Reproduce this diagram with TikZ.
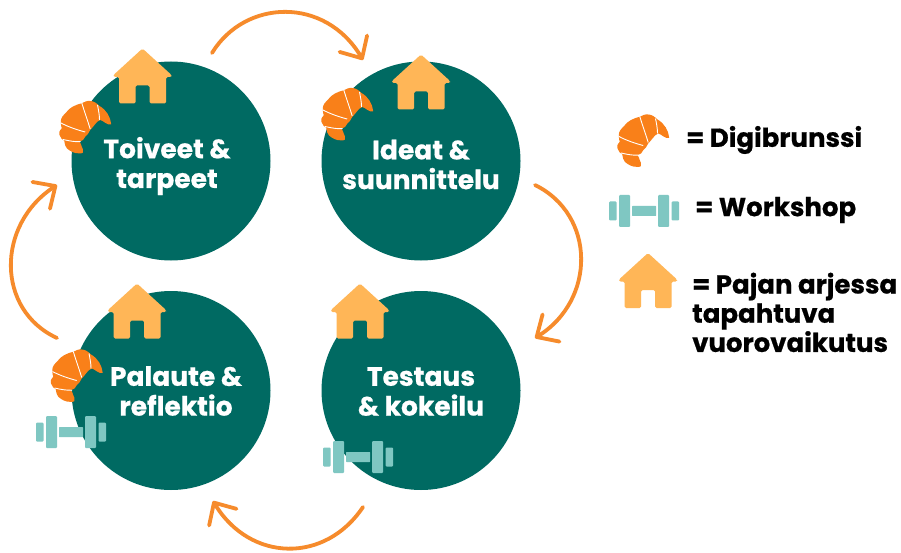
\documentclass[tikz,border=0pt]{standalone}
\usepackage{fontspec}
\setmainfont{Poppins}[BoldFeatures={FakeBold=0.6}]
\usetikzlibrary{arrows.meta}
\definecolor{tealc}{HTML}{006A62}
\definecolor{orangec}{HTML}{F98019}
\definecolor{arrowc}{HTML}{F68B2C}
\definecolor{housec}{HTML}{FFB657}
\definecolor{dumbc}{HTML}{7FC7C2}
\tikzset{
  x=1pt,y=-1pt,
  phase/.style={circle,fill=tealc,draw=none,minimum size=199pt,inner sep=0pt},
  phaselabel/.style={text=white,font=\fontsize{26.5}{29.8}\selectfont\bfseries,align=center,inner sep=0pt},
  legendlabel/.style={text=black,font=\fontsize{26}{29.2}\selectfont\bfseries,align=left,anchor=west,inner sep=0pt},
  cycle/.style={draw=arrowc,line width=3.8pt,line cap=round,line join=round,-{Straight Barb[length=17pt,width=32pt,line width=3.8pt,round]}},
  house/.pic={
    \fill[housec,rounded corners=1.5pt,even odd rule]
      (0,-27.5) -- (29,-1) -- (29,1) -- (23.5,1) -- (23.5,27.5) -- (7,27.5) -- (7,9.5) -- (-7,9.5) -- (-7,27.5) -- (-23.5,27.5) -- (-23.5,1) -- (-29,1) -- (-29,-1) -- cycle;
  },
  croissant/.pic={
    \fill[orangec] (25.7,-2.7) .. controls (25,-10) and (21,-17) .. (14,-21)
      .. controls (11,-24) and (8,-26) .. (4.7,-26)
      .. controls (1,-26.5) and (-1,-25) .. (-3.7,-23.7)
      .. controls (-11,-22) and (-16,-19) .. (-18.7,-15.3)
      .. controls (-22,-12) and (-25,-9) .. (-24.7,-5.3)
      .. controls (-25,-2) and (-24,0) .. (-23.7,1.3)
      .. controls (-26.5,4) and (-26.5,6) .. (-26,8)
      .. controls (-25,11) and (-23,13) .. (-21.3,13.7)
      .. controls (-21,17) and (-20,19.5) .. (-18.7,21.3)
      .. controls (-15,24.5) and (-11,26.5) .. (-7,26.3)
      .. controls (-5,26.5) and (-3.5,26.5) .. (-2.7,25.7)
      .. controls (-2,23) and (-3,21) .. (-3.7,19.7)
      .. controls (-4,18) and (-5,16) .. (-6,14.7)
      .. controls (-3,14) and (-1,12) .. (-.3,9.7)
      .. controls (2,8) and (3.5,5.5) .. (4.7,3)
      .. controls (8,0) and (11,-6) .. (14.7,-7)
      .. controls (18,-6.5) and (22,-1) .. (25.7,-2.7) -- cycle;
    \draw[white,line width=.9pt] (-3.7,-24) .. controls (-1,-15) and (2,-7) .. (4.7,2);
    \draw[white,line width=.9pt] (12,-22) .. controls (13,-17) and (14,-12) .. (14,-7);
    \draw[white,line width=.9pt] (-24.5,-4) .. controls (-17,0) and (-8,3) .. (-.3,5);
    \draw[white,line width=.9pt] (-22.5,12.5) .. controls (-16,14) and (-10,15) .. (-5,14.7);
  },
  dumbbell/.pic={
    \fill[dumbc,rounded corners=1pt] (-35,-9.5) rectangle (-27.5,9.5);
    \fill[dumbc,rounded corners=1pt] (-25,-16) rectangle (-14,16);
    \fill[dumbc,rounded corners=.5pt] (-12,-5) rectangle (12,5);
    \fill[dumbc,rounded corners=1pt] (14,-16) rectangle (25,16);
    \fill[dumbc,rounded corners=1pt] (27.5,-9.5) rectangle (35,9.5);
  }
}
\begin{document}
\begin{tikzpicture}
\useasboundingbox (0,0) rectangle (901,553);
\fill[white] (0,0) rectangle (901,553);
% phases
\node[phase] (toiveet) at (171,161) {};
\node[phase] (ideat) at (421,161) {};
\node[phase] (palaute) at (171,390.5) {};
\node[phase] (testaus) at (421,390.5) {};
\node[phaselabel] (ltoiveet) at (167,166) {Toiveet \&\\tarpeet};
\node[phaselabel] (lideat) at (421,164.5) {Ideat \&\\suunnittelu};
\node[phaselabel] (lpalaute) at (176,391) {Palaute \&\\reflektio};
\node[phaselabel] (ltestaus) at (421,391.5) {Testaus\\\& kokeilu};
% icons
\pic at (142.5,76) {house};
\pic at (421,82) {house};
\pic at (137,311) {house};
\pic at (360,311) {house};
\pic at (85.5,127) {croissant};
\pic at (347.5,114) {croissant};
\pic at (77,375.5) {croissant};
\pic at (71,432) {dumbbell};
\pic at (358,457) {dumbbell};
% cycle arrows
\coordinate (a1) at (212,53);
\coordinate (a2) at (363,60);
\coordinate (b1) at (535,185);
\coordinate (b2) at (535,338);
\coordinate (c1) at (363,507);
\coordinate (c2) at (213,501);
\coordinate (d1) at (57,338);
\coordinate (d2) at (57,185);
\draw[cycle] (a1) .. controls (245,-1) and (325,-4) .. (a2);
\draw[cycle] (b1) .. controls (596,215) and (596,300) .. (b2);
\draw[cycle] (c1) .. controls (325,564) and (250,562) .. (c2);
\draw[cycle] (d1) .. controls (-4,310) and (-4,225) .. (d2);
% legend
\pic at (643.5,140.5) {croissant};
\pic at (644,211) {dumbbell};
\pic at (648,280.5) {house};
\node[legendlabel] (ldigi) at (686,140) {= Digibrunssi};
\node[legendlabel] (lwork) at (695,210) {= Workshop};
\node[legendlabel,anchor=north west] (lpajan) at (692,272.5) {= Pajan arjessa\\tapahtuva\\vuorovaikutus};
\end{tikzpicture}
\end{document}
